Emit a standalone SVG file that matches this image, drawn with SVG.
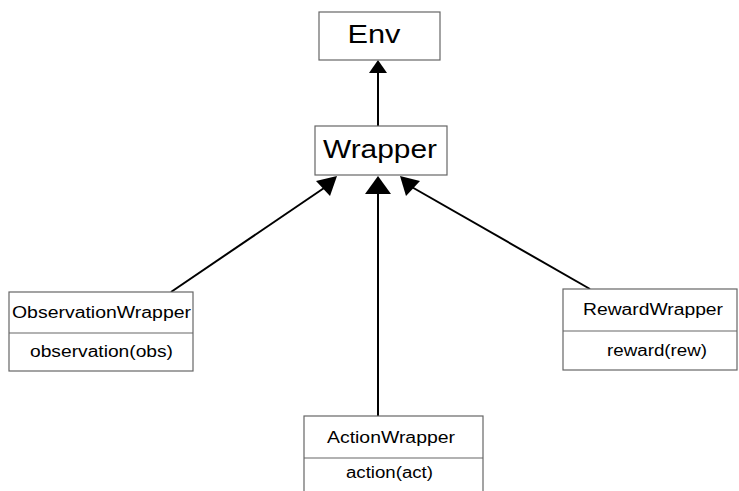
<svg xmlns="http://www.w3.org/2000/svg" width="739" height="491" viewBox="0 0 739 491">
  <style>
    .box { fill: #ffffff; stroke: #666666; stroke-width: 1.2; }
    .div { stroke: #666666; stroke-width: 1.2; fill: none; }
    .edge { stroke: #000000; stroke-width: 2; fill: none; }
    .head { fill: #000000; stroke: none; }
    text { font-family: "Liberation Sans", "DejaVu Sans", sans-serif; fill: #000000; text-anchor: middle; }
    .big { font-size: 25px; }
    .small { font-size: 16px; }
  </style>
  <rect width="739" height="491" fill="#ffffff"/>

  <!-- inheritance connectors -->
  <g id="connectors">
    <line class="edge" x1="378" y1="126" x2="378" y2="72"/>
    <polygon class="head" points="378,60 369,73 387,73"/>

    <line class="edge" x1="171" y1="292" x2="327" y2="186"/>
    <polygon class="head" points="337,176 316,181 330,196"/>

    <line class="edge" x1="378" y1="416" x2="378" y2="192"/>
    <polygon class="head" points="378,176 365,194 391,194"/>

    <line class="edge" x1="590" y1="289" x2="410" y2="186"/>
    <polygon class="head" points="400,176 406,196 420,181"/>
  </g>

  <g id="env">
    <rect class="box" x="319" y="12" width="121" height="48"/>
    <text class="big" x="374" y="43" textLength="53" lengthAdjust="spacingAndGlyphs">Env</text>
  </g>

  <g id="wrapper">
    <rect class="box" x="315" y="126" width="132" height="49"/>
    <text class="big" x="380" y="158" textLength="114" lengthAdjust="spacingAndGlyphs">Wrapper</text>
  </g>

  <g id="observation-wrapper">
    <rect class="box" x="9" y="292" width="184" height="79"/>
    <line class="div" x1="9" y1="333" x2="193" y2="333"/>
    <text class="small" x="101.5" y="318" textLength="179" lengthAdjust="spacingAndGlyphs">ObservationWrapper</text>
    <text class="small" x="101.5" y="357" textLength="143" lengthAdjust="spacingAndGlyphs">observation(obs)</text>
  </g>

  <g id="reward-wrapper">
    <rect class="box" x="563" y="289" width="174" height="81"/>
    <line class="div" x1="563" y1="331" x2="737" y2="331"/>
    <text class="small" x="653" y="315" textLength="140" lengthAdjust="spacingAndGlyphs">RewardWrapper</text>
    <text class="small" x="657" y="356" textLength="100" lengthAdjust="spacingAndGlyphs">reward(rew)</text>
  </g>

  <g id="action-wrapper">
    <rect class="box" x="304" y="416" width="179" height="84"/>
    <line class="div" x1="304" y1="458" x2="483" y2="458"/>
    <text class="small" x="391" y="443" textLength="128" lengthAdjust="spacingAndGlyphs">ActionWrapper</text>
    <text class="small" x="389.5" y="478" textLength="87" lengthAdjust="spacingAndGlyphs">action(act)</text>
  </g>
</svg>
